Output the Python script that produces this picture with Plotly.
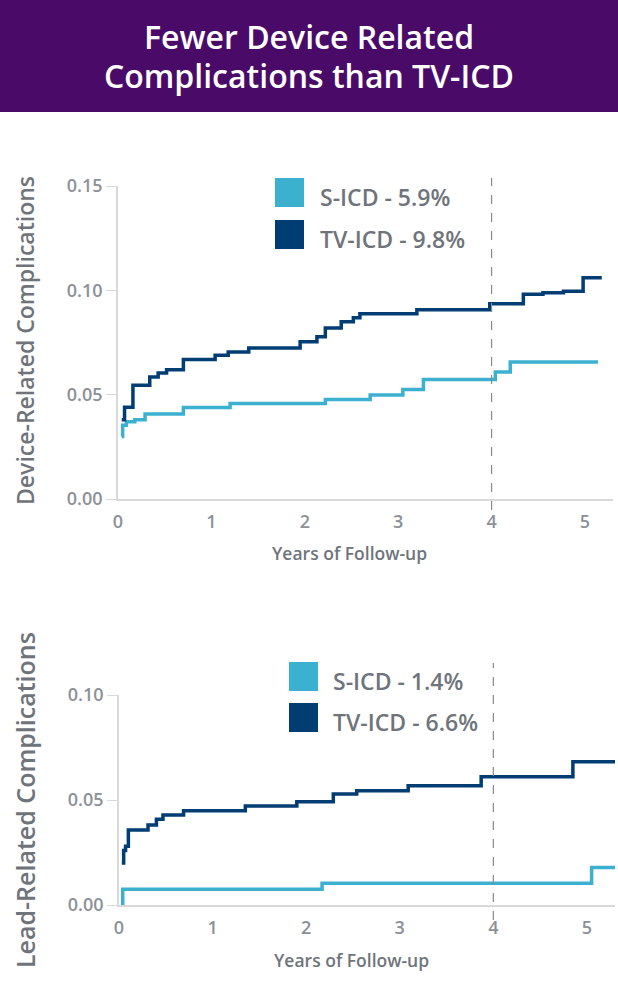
import plotly.graph_objects as go

# ---------------- data ----------------
years_ticks = [0, 1, 2, 3, 4, 5]
title_lines = ["Fewer Device Related", "Complications than TV-ICD"]
x_title = "Years of Follow-up"

dev_title = "Device-Related Complications"
dev_ticks = [0.00, 0.05, 0.10, 0.15]
dev_legend = ["S-ICD - 5.9%", "TV-ICD - 9.8%"]
dev_s_x = [0.04, 0.05, 0.09, 0.18, 0.29, 0.70, 1.20, 2.22, 2.70, 3.05, 3.27, 4.04, 4.20, 5.14]
dev_s_y = [0.030, 0.0354, 0.037, 0.038, 0.0407, 0.0439, 0.0458, 0.0477, 0.0498, 0.0525, 0.0573, 0.0609, 0.0657, 0.0657]
dev_tv_x = [0.04, 0.07, 0.16, 0.34, 0.43, 0.52, 0.70, 1.04, 1.18, 1.40, 1.95, 2.13, 2.22, 2.39,
            2.52, 2.59, 3.20, 3.98, 4.34, 4.55, 4.77, 4.98, 5.18]
dev_tv_y = [0.038, 0.044, 0.0545, 0.0585, 0.0604, 0.062, 0.0668, 0.0689, 0.0705, 0.0724, 0.0753,
            0.0777, 0.082, 0.0849, 0.0869, 0.0888, 0.0907, 0.0936, 0.0981, 0.0988, 0.0996, 0.106, 0.106]

lead_title = "Lead-Related Complications"
lead_ticks = [0.00, 0.05, 0.10]
lead_legend = ["S-ICD - 1.4%", "TV-ICD - 6.6%"]
lead_s_x = [0.02, 0.04, 2.17, 5.05, 5.30]
lead_s_y = [0.0, 0.0075, 0.0103, 0.0178, 0.0178]
lead_tv_x = [0.03, 0.05, 0.07, 0.10, 0.31, 0.40, 0.47, 0.69, 1.35, 1.90, 2.29, 2.54, 3.09, 3.87, 4.85, 5.30]
lead_tv_y = [0.020, 0.026, 0.028, 0.0357, 0.0381, 0.0408, 0.0429, 0.0449, 0.0471, 0.0492, 0.0529,
             0.0544, 0.0568, 0.0611, 0.0682, 0.0682]

ref_year = 4

# ---------------- style ----------------
W, H = 618, 1000
CYAN = "#3cb0cf"
NAVY = "#003d73"
PURPLE = "#4a0b68"
AXIS = "#d9d9d9"
TICK_TXT = "#8d9197"
LABEL_TXT = "#6f747b"
FONT = "Open Sans"


def px_x(p):
    return p / W


def px_y(p):
    return 1 - p / H


fig = go.Figure()

fig.add_trace(go.Scatter(x=dev_s_x, y=dev_s_y, mode="lines", line=dict(color=CYAN, width=3.5, shape="hv"),
                         xaxis="x", yaxis="y", showlegend=False))
fig.add_trace(go.Scatter(x=dev_tv_x, y=dev_tv_y, mode="lines", line=dict(color=NAVY, width=3.5, shape="hv"),
                         xaxis="x", yaxis="y", showlegend=False))
fig.add_trace(go.Scatter(x=lead_s_x, y=lead_s_y, mode="lines", line=dict(color=CYAN, width=3.5, shape="hv"),
                         xaxis="x2", yaxis="y2", showlegend=False))
fig.add_trace(go.Scatter(x=lead_tv_x, y=lead_tv_y, mode="lines", line=dict(color=NAVY, width=3.5, shape="hv"),
                         xaxis="x2", yaxis="y2", showlegend=False))

tickfont = dict(family=FONT, size=18, color=TICK_TXT, weight=600)
xcommon = dict(range=[0, 5.30], tickvals=years_ticks, showgrid=False, zeroline=False, automargin=False,
               showline=True, linecolor=AXIS, linewidth=1.5, ticks="", tickfont=tickfont,
               ticklabelstandoff=6)
ycommon = dict(showgrid=False, zeroline=False, showline=True, linecolor=AXIS, linewidth=1.5, automargin=False,
               ticks="outside", ticklen=10, tickcolor=AXIS, tickformat=".2f", tickfont=tickfont)

fig.update_layout(
    template="none",
    width=W, height=H, autosize=False, margin=dict(l=0, r=0, t=0, b=0, pad=0),
    paper_bgcolor="white", plot_bgcolor="white", showlegend=False,
    xaxis=dict(domain=[px_x(118), px_x(613)], anchor="y", **xcommon),
    yaxis=dict(domain=[px_y(499), px_y(186)], range=[0, 0.15], tickvals=dev_ticks, anchor="x", **ycommon),
    xaxis2=dict(domain=[px_x(119), px_x(615)], anchor="y2", **xcommon),
    yaxis2=dict(domain=[px_y(905), px_y(695)], range=[0, 0.10], tickvals=lead_ticks, anchor="x2", **ycommon),
)

shapes = []
annotations = []

# title band
shapes.append(dict(type="rect", xref="paper", yref="paper", x0=0, x1=1, y0=px_y(112), y1=1,
                   fillcolor=PURPLE, line=dict(width=0), layer="below"))
for txt, cy in zip(title_lines, [36, 76]):
    annotations.append(dict(text=txt, xref="paper", yref="paper", x=0.5, y=px_y(cy), showarrow=False,
                            xanchor="center", yanchor="middle",
                            font=dict(family=FONT, size=32, color="white", weight=600)))

# reference dashed lines
shapes.append(dict(type="line", xref="x", yref="paper", x0=ref_year, x1=ref_year, y0=px_y(510), y1=px_y(178),
                   line=dict(color="#8a8a8a", width=1.2, dash="dash")))
shapes.append(dict(type="line", xref="x2", yref="paper", x0=ref_year, x1=ref_year, y0=px_y(920), y1=px_y(663),
                   line=dict(color="#8a8a8a", width=1.2, dash="dash")))

# legends
legend_specs = [
    (dev_legend, 275, [178, 220], 318),
    (lead_legend, 289, [662, 703], 331),
]
for labels, sx, tops, tx in legend_specs:
    for lab, top, col in zip(labels, tops, [CYAN, NAVY]):
        shapes.append(dict(type="rect", xref="paper", yref="paper", x0=px_x(sx), x1=px_x(sx + 29),
                           y0=px_y(top + 29), y1=px_y(top), fillcolor=col, line=dict(width=0)))
        annotations.append(dict(text=lab, xref="paper", yref="paper", x=px_x(tx), y=px_y(top + 19),
                                showarrow=False, xanchor="left", yanchor="middle",
                                font=dict(family=FONT, size=23, color=LABEL_TXT, weight=600)))

# axis titles
for cx, cy in [(349, 553), (351, 960)]:
    annotations.append(dict(text=x_title, xref="paper", yref="paper", x=px_x(cx), y=px_y(cy), showarrow=False,
                            xanchor="center", yanchor="middle",
                            font=dict(family=FONT, size=17.5, color=LABEL_TXT, weight=600)))
for txt, cy, sz in [(dev_title, 341, 23), (lead_title, 800, 25)]:
    annotations.append(dict(text=txt, xref="paper", yref="paper", x=px_x(25), y=px_y(cy), showarrow=False,
                            textangle=-90, xanchor="center", yanchor="middle",
                            font=dict(family=FONT, size=sz, color=LABEL_TXT, weight=600)))

fig.update_layout(shapes=shapes, annotations=annotations)
fig.write_html("out.html", config={"displayModeBar": False},
               post_script="document.body.style.margin='0';")
